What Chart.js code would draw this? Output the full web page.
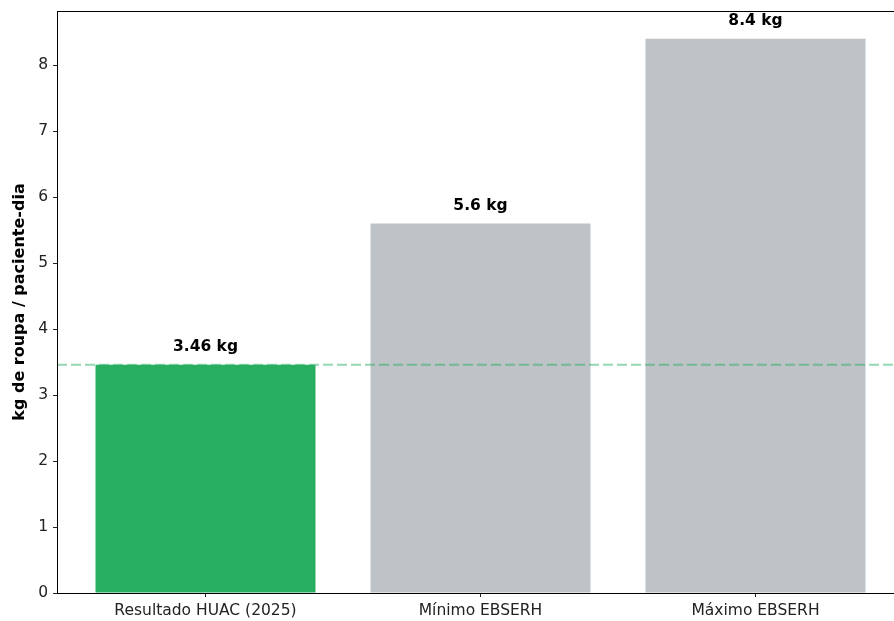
<!DOCTYPE html>
<html>
<head>
<meta charset="utf-8">
<script src="https://cdn.jsdelivr.net/npm/chart.js@4"></script>
<style>
  html, body { margin: 0; padding: 0; background: #fff; overflow: hidden; }
  #wrap { width: 910px; height: 621px; position: relative; }
</style>
</head>
<body>
<div id="wrap"><canvas id="c"></canvas></div>
<script>
// Roupa processada por paciente-dia (kg)
const categories = ['Resultado HUAC (2025)', 'Mínimo EBSERH', 'Máximo EBSERH'];
const values = [3.46, 5.6, 8.4];
const barColors = ['#27ae60', '#bdc3c7', '#bdc3c7'];
const valueLabels = ['3.46 kg', '5.6 kg', '8.4 kg'];
const referenceValue = 3.46;
const yTicks = [0, 1, 2, 3, 4, 5, 6, 7, 8];

const FONT = "'DejaVu Sans', sans-serif";

const framePlugin = {
  id: 'frame',
  afterDatasetsDraw(chart) {
    const { ctx, chartArea: a, scales } = chart;
    const y = scales.y.getPixelForValue(referenceValue);
    ctx.save();
    ctx.strokeStyle = 'rgba(39,174,96,0.5)';
    ctx.lineWidth = 2;
    ctx.setLineDash([10, 4]);
    ctx.beginPath();
    ctx.moveTo(a.left, y);
    ctx.lineTo(a.right, y);
    ctx.stroke();
    ctx.setLineDash([]);
    // value labels above bars
    ctx.fillStyle = '#000';
    ctx.font = 'bold 15.5px ' + FONT;
    ctx.textAlign = 'center';
    ctx.textBaseline = 'bottom';
    values.forEach((v, i) => {
      const px = scales.x.getPixelForValue(i);
      const py = scales.y.getPixelForValue(v + 0.15);
      ctx.fillText(valueLabels[i], px, py);
    });
    // axes frame
    ctx.strokeStyle = '#000';
    ctx.lineWidth = 1;
    ctx.strokeRect(Math.round(a.left) + 0.5, Math.round(a.top) + 0.5,
                   Math.round(a.right - a.left), Math.round(a.bottom - a.top));
    ctx.restore();
  }
};

new Chart(document.getElementById('c'), {
  type: 'bar',
  data: {
    datasets: [{
      data: values.map((v, i) => ({ x: i, y: v })),
      backgroundColor: barColors,
      borderWidth: 0,
      barPercentage: 0.8,
      categoryPercentage: 1.0
    }]
  },
  options: {
    responsive: true,
    maintainAspectRatio: false,
    animation: false,
    layout: { padding: { top: 11, right: 6, bottom: 0, left: 0 } },
    plugins: { legend: { display: false }, tooltip: { enabled: false } },
    scales: {
      x: {
        type: 'linear',
        offset: false,
        min: -0.54,
        max: 2.54,
        afterBuildTicks(scale) { scale.ticks = categories.map((_, i) => ({ value: i })); },
        afterFit(scale) { scale.height = 28; scale.paddingLeft = 0; scale.paddingRight = 0; },
        ticks: {
          callback: (v) => categories[v],
          font: { family: FONT, size: 15.5 },
          color: '#222',
          padding: 5,
          maxRotation: 0,
          autoSkip: false
        },
        grid: { offset: false, drawOnChartArea: false, tickLength: 4, tickColor: '#222', tickWidth: 1 },
        border: { display: false }
      },
      y: {
        min: 0,
        max: 8.82,
        afterBuildTicks(scale) { scale.ticks = yTicks.map(v => ({ value: v })); },
        afterFit(scale) { scale.width = 57; scale.paddingTop = 0; scale.paddingBottom = 0; },
        ticks: {
          font: { family: FONT, size: 15.5 },
          color: '#222',
          padding: 5
        },
        grid: { drawOnChartArea: false, tickLength: 4, tickColor: '#222', tickWidth: 1 },
        border: { display: false },
        title: {
          display: true,
          text: 'kg de roupa / paciente-dia',
          font: { family: FONT, size: 16, weight: 'bold' },
          color: '#000',
          padding: { top: 10, bottom: 0 }
        }
      }
    }
  },
  plugins: [framePlugin]
});
</script>
</body>
</html>
